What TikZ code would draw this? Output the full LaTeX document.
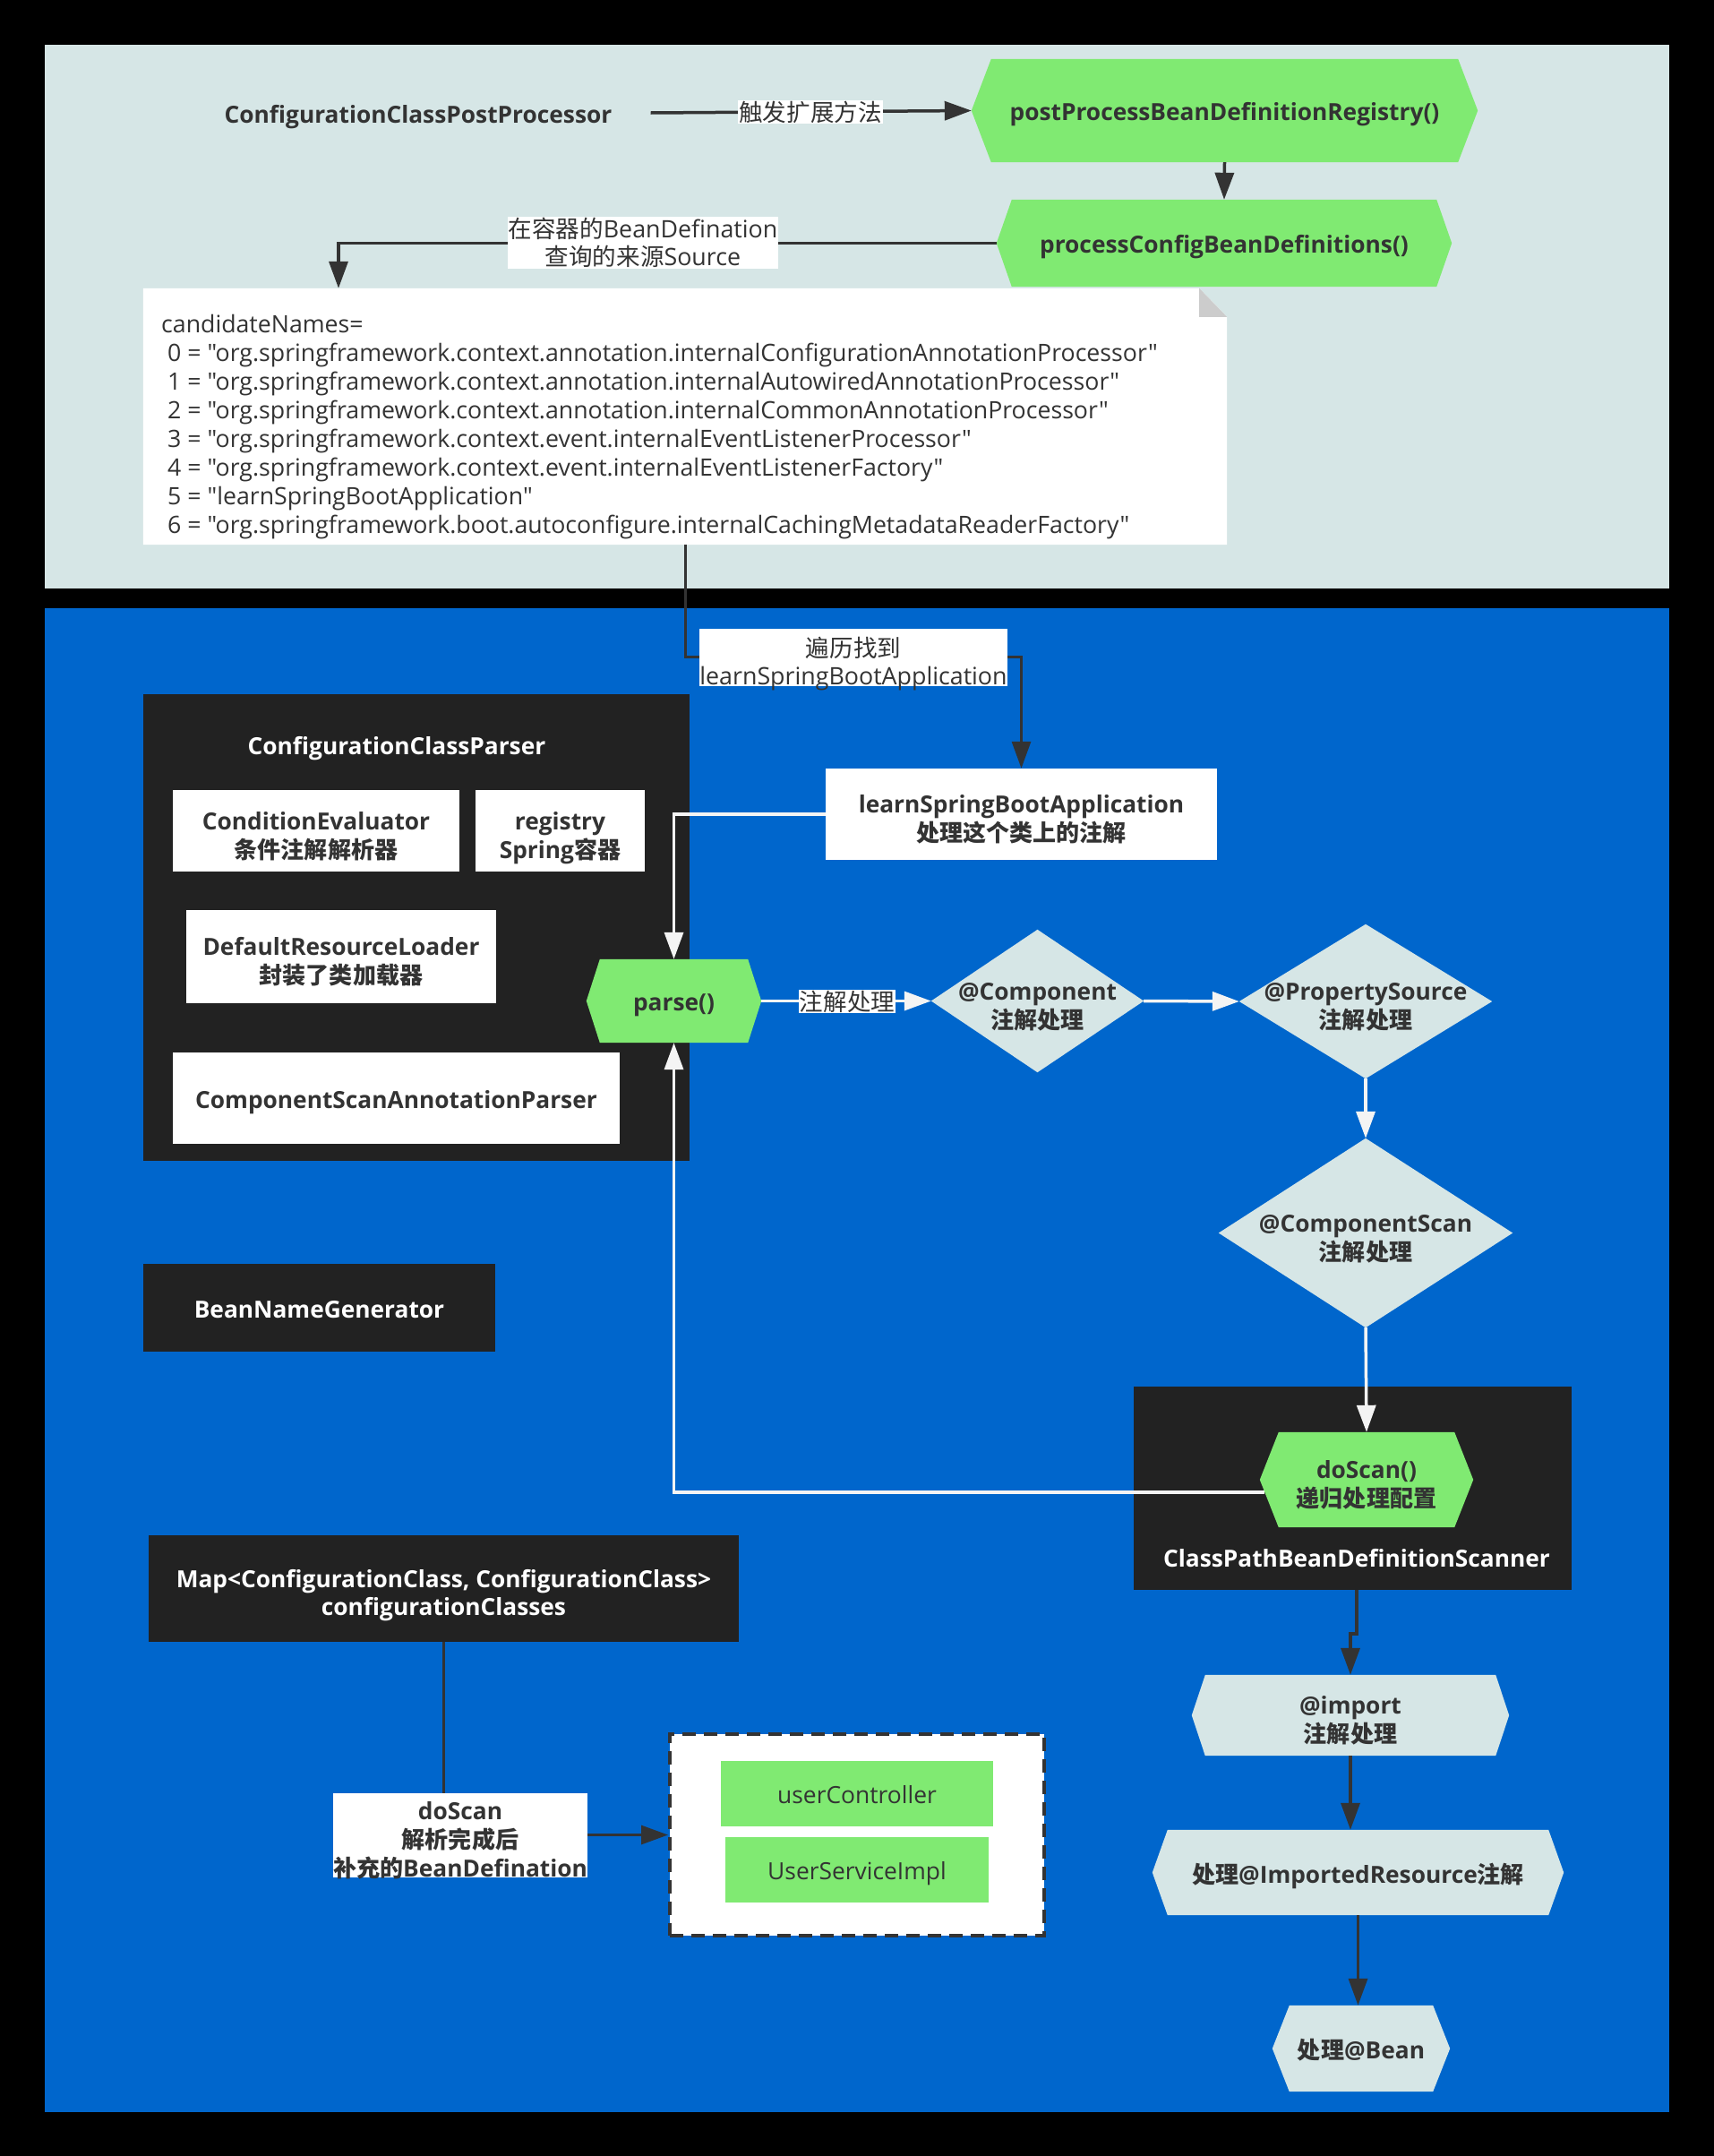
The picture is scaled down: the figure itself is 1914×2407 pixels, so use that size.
\documentclass[tikz,border=0pt]{standalone}
\usepackage{fontspec}
\setmainfont{Open Sans}[Ligatures=TeXOff]
\newfontfamily\cjk{Noto Sans CJK SC}[Scale=0.99]
\newcommand\zh[1]{{\cjk #1}}
\newcommand\mainsz{\fontsize{26.3}{31}\selectfont}
\newcommand\labsz{\fontsize{26.8}{31.5}\selectfont}
\newcommand\notesz{\fontsize{26.7}{32}\selectfont}
\newcommand\tx[1]{\raisebox{-5pt}[\height][\depth]{\begin{tabular}{@{}c@{}}#1\end{tabular}}}
\newcommand\txm[1]{\raisebox{-8.5pt}[\height][\depth]{\begin{tabular}{@{}c@{}}#1\end{tabular}}}
\usetikzlibrary{arrows.meta,calc}
\definecolor{panel}{HTML}{D6E6E6}
\definecolor{bluep}{HTML}{0066CC}
\definecolor{greenf}{HTML}{80EA72}
\definecolor{darkf}{HTML}{222222}
\definecolor{txt}{HTML}{333333}
\definecolor{wline}{HTML}{F4F4F4}
\definecolor{foldc}{HTML}{CCCCCC}
\pgfdeclarelayer{bg}
\pgfdeclarelayer{mid}
\pgfdeclarelayer{shp}
\pgfsetlayers{bg,mid,shp,main}
\newcommand\hexat[3]{\fill[#3] (#1.west) -- ([xshift=#2]#1.north west) -- ([xshift=-#2]#1.north east) -- (#1.east) -- ([xshift=-#2]#1.south east) -- ([xshift=#2]#1.south west) -- cycle;}
\newcommand\diamat[2]{\fill[#2] (#1.west) -- (#1.north) -- (#1.east) -- (#1.south) -- cycle;}
\tikzset{
  shp/.style={inner sep=0pt, font=\mainsz\bfseries, text=txt},
  wbox/.style={shp, fill=white},
  dbox/.style={shp, fill=darkf, text=white},
  gbox/.style={inner sep=0pt, font=\fontsize{26.4}{31}\selectfont, text=txt, fill=greenf},
  elab/.style={inner sep=1pt, align=center, font=\labsz, text=txt, fill=white},
  darr/.style={draw=txt, line width=3.5pt, -{Triangle[length=30pt,width=21pt]}},
  warr/.style={draw=wline, line width=3.5pt, -{Triangle[length=30pt,width=21pt]}},
}
\begin{document}
\begin{tikzpicture}[x=1pt,y=-1pt]
\useasboundingbox (0,0) rectangle (1914,2407);
\begin{pgfonlayer}{bg}
\fill[black] (0,0) rectangle (1914,2407);
\fill[panel] (50,50) rectangle (1864,657);
\fill[bluep] (50,679) rectangle (1864,2358);
\end{pgfonlayer}

% top panel
\node[shp] (ccpp) at (467,126) {\tx{ConfigurationClassPostProcessor}};
\node[shp, minimum width=565pt, minimum height=115pt] (pp) at (1367.5,123.5) {\tx{postProcessBeanDefinitionRegistry()}};
\node[shp, minimum width=508pt, minimum height=97pt] (pcb) at (1367,271.5) {\tx{processConfigBeanDefinitions()}};
\node[inner sep=0pt, minimum width=1210pt, minimum height=286pt] (note) at (765,465) {};
\begin{pgfonlayer}{shp}
\fill[white] (note.north west) -- ([xshift=-31pt]note.north east) -- ([yshift=-32pt]note.north east) -- (note.south east) -- (note.south west) -- cycle;
\fill[foldc] ([xshift=-31pt]note.north east) -- ([xshift=-31pt,yshift=-32pt]note.north east) -- ([yshift=-32pt]note.north east) -- cycle;
\end{pgfonlayer}
\node[anchor=north west, align=left, inner sep=0pt, font=\notesz, text=txt] (notetext) at (180,351.5) {candidateNames=\\
\hspace*{7pt}0 = "org.springframework.context.annotation.internalConfigurationAnnotationProcessor"\\
\hspace*{7pt}1 = "org.springframework.context.annotation.internalAutowiredAnnotationProcessor"\\
\hspace*{7pt}2 = "org.springframework.context.annotation.internalCommonAnnotationProcessor"\\
\hspace*{7pt}3 = "org.springframework.context.event.internalEventListenerProcessor"\\
\hspace*{7pt}4 = "org.springframework.context.event.internalEventListenerFactory"\\
\hspace*{7pt}5 = "learnSpringBootApplication"\\
\hspace*{7pt}6 = "org.springframework.boot.autoconfigure.internalCachingMetadataReaderFactory"};

% containers
\begin{pgfonlayer}{mid}
\node[fill=darkf, inner sep=0pt, minimum width=610pt, minimum height=521pt] (ccp) at (465,1035.5) {};
\node[fill=darkf, inner sep=0pt, minimum width=489pt, minimum height=227pt] (scan) at (1510.5,1661.5) {};
\end{pgfonlayer}
\node[shp, text=white] (ccpt) at (443,831) {\tx{ConfigurationClassParser}};
\node[shp, text=white] (scant) at (1515,1738) {\tx{ClassPathBeanDefinitionScanner}};

\node[wbox, minimum width=437pt, minimum height=102pt] (lsba) at (1140.5,909) {\txm{learnSpringBootApplication\\\zh{处理这个类上的注解}}};
\node[wbox, minimum width=320pt, minimum height=91pt] (ce) at (353,927.5) {\txm{ConditionEvaluator\\\zh{条件注解解析器}}};
\node[wbox, minimum width=189pt, minimum height=91pt] (reg) at (625.5,927.5) {\txm{registry\\Spring\zh{容器}}};
\node[wbox, minimum width=346pt, minimum height=104pt] (drl) at (381,1068) {\txm{DefaultResourceLoader\\\zh{封装了类加载器}}};
\node[wbox, minimum width=499pt, minimum height=102pt] (csap) at (442.5,1226) {\tx{ComponentScanAnnotationParser}};

\node[shp, minimum width=195pt, minimum height=93pt] (parse) at (752.5,1117.5) {\tx{parse()}};
\node[shp, minimum width=237pt, minimum height=159pt] (comp) at (1158.5,1117.5) {\txm{@Component\\\zh{注解处理}}};
\node[shp, minimum width=282pt, minimum height=172pt] (ps) at (1525,1118) {\txm{@PropertySource\\\zh{注解处理}}};
\node[shp, minimum width=328pt, minimum height=211pt] (cs) at (1525,1376.5) {\txm{@ComponentScan\\\zh{注解处理}}};
\node[shp, minimum width=238pt, minimum height=106pt] (ds) at (1526,1652) {\txm{doScan()\\\zh{递归处理配置}}};
\node[shp, minimum width=354pt, minimum height=90pt] (imp) at (1508,1915) {\txm{@import\\\zh{注解处理}}};
\node[shp, minimum width=459pt, minimum height=95pt] (irr) at (1516.5,2090.5) {\tx{\zh{处理}@ImportedResource\zh{注解}}};
\node[shp, minimum width=198pt, minimum height=96pt] (bean) at (1520,2287) {\tx{\zh{处理}@Bean}};

\node[dbox, minimum width=393pt, minimum height=98pt] (bng) at (356.5,1460) {\tx{BeanNameGenerator}};
\node[dbox, minimum width=659pt, minimum height=119pt] (map) at (495.5,1773.5) {\txm{Map<ConfigurationClass, ConfigurationClass>\\configurationClasses}};

\node[fill=white, draw=txt, line width=4pt, dash pattern=on 15pt off 9pt, inner sep=0pt, minimum width=418pt, minimum height=225pt] (dash) at (957,2048.5) {};
\node[gbox, minimum width=304pt, minimum height=73pt] (uc) at (957,2002.5) {\tx{userController}};
\node[gbox, minimum width=294pt, minimum height=73pt] (usi) at (957,2087.5) {\tx{UserServiceImpl}};

\begin{pgfonlayer}{shp}
\hexat{pp}{22pt}{greenf}
\hexat{pcb}{17pt}{greenf}
\hexat{parse}{15pt}{greenf}
\hexat{ds}{21pt}{greenf}
\hexat{imp}{15pt}{panel}
\hexat{irr}{17pt}{panel}
\hexat{bean}{19pt}{panel}
\diamat{comp}{panel}
\diamat{ps}{panel}
\diamat{cs}{panel}
\end{pgfonlayer}

% connectors
\draw[darr] ([xshift=43pt]ccpp.east) -- (pp.west);
\draw[darr] (pp.south) -- (pcb.north);
\draw[darr] (pcb.west) -| ([xshift=-387pt]note.north);
\draw[darr, line width=3pt] (note.south) -- ++(0,125) -| (lsba.north);
\draw[warr] (lsba.west) -| (parse.north);
\draw[warr] ([yshift=-14pt,xshift=5pt]ds.west) -| (parse.south);
\draw[warr] (parse.east) -- (comp.west);
\draw[warr] (comp.east) -- (ps.west);
\draw[warr] (ps.south) -- (cs.north);
\draw[warr] (cs.south) -- (ds.north);
\draw[darr] ([xshift=4.5pt]scan.south) -- ++(0,49) -| (imp.north);
\draw[darr] (imp.south) -- (imp.south |- irr.north);
\draw[darr] (irr.south) -- (irr.south |- bean.north);
\draw[darr, line width=3pt] (map.south) |- (dash.west);

% edge labels
\node[elab] (l1) at (905,125) {\zh{触发扩展方法}};
\node[elab] (l2) at (718,271) {\zh{在容器的}BeanDefination\\\zh{查询的来源}Source};
\node[elab, inner sep=0pt, minimum width=343pt, minimum height=64pt] (l3) at (953,734) {\txm{\zh{遍历找到}\\learnSpringBootApplication}};
\node[elab] (l4) at (946,1118) {\zh{注解处理}};
\node[wbox, minimum width=282pt, minimum height=92pt] (l5) at (514,2049) {\txm{doScan\\\zh{解析完成后}\\\zh{补充的}BeanDefination}};
\end{tikzpicture}
\end{document}
